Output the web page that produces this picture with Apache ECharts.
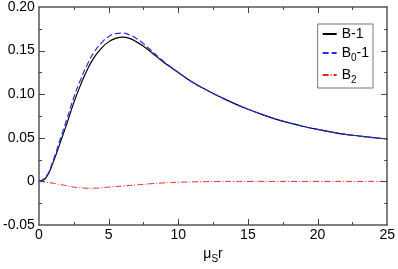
<!DOCTYPE html>
<html><head><meta charset="utf-8">
<script src="https://cdn.jsdelivr.net/npm/echarts@6/dist/echarts.min.js"></script>
<style>html,body{margin:0;padding:0;background:#fff}#c{width:398px;height:269px}</style>
</head><body><div id="c"></div>
<script>
const rB = [0,0.5,1,1.5,2,2.5,3,3.5,4,4.5,5,5.5,6,6.5,7,7.5,8,9,10,11,12,13,14,15,16,17,18,19,20,21,22,23,24,25];
const bMinus1 = [0,0.004,0.021,0.043,0.066,0.090,0.111,0.129,0.143,0.153,0.160,0.164,0.1655,0.164,0.160,0.155,0.149,0.136,0.125,0.114,0.105,0.097,0.0895,0.0828,0.0768,0.0715,0.0670,0.0630,0.0596,0.0566,0.0540,0.0520,0.0502,0.0486];
const b0Minus1 = [0,0.005,0.023,0.047,0.071,0.096,0.117,0.135,0.149,0.159,0.166,0.1695,0.170,0.168,0.164,0.158,0.151,0.137,0.125,0.114,0.105,0.097,0.0895,0.0828,0.0768,0.0715,0.0670,0.0630,0.0596,0.0566,0.0540,0.0520,0.0502,0.0486];
const rR = [0,0.5,1,1.5,2,2.5,3,3.5,4,4.5,5,6,7,8,9,10,11,12,13,14,15,20,25];
const b2 = [0,-0.0008,-0.002,-0.0035,-0.005,-0.0065,-0.0073,-0.0078,-0.0078,-0.0073,-0.0066,-0.0053,-0.004,-0.0027,-0.0017,-0.001,-0.0006,-0.0003,-0.0001,0,0,0,0];
const yTickLabels = {'-0.05':'-0.05','0':'0','0.05':'0.05','0.1':'0.10','0.15':'0.15','0.2':'0.20'};
const xMajorTicks = [5,10,15,20];
const xMinorTicks = [2.5,7.5,12.5,17.5,22.5];
const yMajorTicks = [0,0.05,0.10,0.15];
const yMinorTicks = [-0.025,0.025,0.075,0.125,0.175];

const zip = (a,b)=>a.map((v,i)=>[v,b[i]]);
const font = 'Liberation Sans, Arial, sans-serif';
const axisCol = '#555';
const tickCol = '#444';
const subStyle = {fontFamily:font,fontSize:10,color:'#000',verticalAlign:'bottom',padding:[10,0,0,0]};
const X0=0, X1=25, Y0=-0.05, Y1=0.20;
const chart = echarts.init(document.getElementById('c'));
function mkAxis(kind,pos){
  const a = {type:'value', gridIndex:0, position:pos,
    axisLine:{show:true,onZero:false,lineStyle:{color:axisCol,width:1.5}},
    axisTick:{show:false}, minorTick:{show:false},
    splitLine:{show:false}};
  if(kind==='x'){ a.min=X0; a.max=X1; a.interval=5; }
  else { a.min=Y0; a.max=Y1; a.interval=0.05; }
  return a;
}
const xb = mkAxis('x','bottom');
xb.axisLabel = {color:'#000',fontFamily:font,fontSize:14,margin:3};
xb.name = '{a|μ}{s|S}{a|r}'; xb.nameLocation='middle'; xb.nameGap=19;
xb.nameTextStyle = {rich:{a:{fontFamily:font,fontSize:14,color:'#000'},s:subStyle}};
const xt = mkAxis('x','top'); xt.axisLabel={show:false};
const yl = mkAxis('y','left');
yl.axisLabel = {color:'#000',fontFamily:font,fontSize:14,margin:4,
  formatter:function(v){ const k=String(Math.round(v*100)/100); return yTickLabels[k]!==undefined?yTickLabels[k]:k; }};
const yr = mkAxis('y','right'); yr.axisLabel={show:false};

// tick marks on all four sides: [value, side(0 bottom,1 top,2 left,3 right), length]
const tickData = [];
xMajorTicks.forEach(v=>{tickData.push([v,0,6]);tickData.push([v,1,6]);});
xMinorTicks.forEach(v=>{tickData.push([v,0,3]);tickData.push([v,1,3]);});
yMajorTicks.forEach(v=>{tickData.push([v,2,6]);tickData.push([v,3,6]);});
yMinorTicks.forEach(v=>{tickData.push([v,2,3]);tickData.push([v,3,3]);});

function renderTick(params, api){
  const v=api.value(0), side=api.value(1), len=api.value(2);
  let x1,y1,x2,y2,p;
  if(side===0){ p=api.coord([v,Y0]); x1=x2=Math.round(p[0])+0.5; y1=p[1]; y2=p[1]-len; }
  else if(side===1){ p=api.coord([v,Y1]); x1=x2=Math.round(p[0])+0.5; y1=p[1]; y2=p[1]+len; }
  else if(side===2){ p=api.coord([X0,v]); y1=y2=Math.round(p[1])+0.5; x1=p[0]; x2=p[0]+len; }
  else { p=api.coord([X1,v]); y1=y2=Math.round(p[1])+0.5; x1=p[0]; x2=p[0]-len; }
  return {type:'line',shape:{x1:x1,y1:y1,x2:x2,y2:y2},style:{stroke:tickCol,lineWidth:1}};
}

chart.setOption({
  animation:false,
  grid:{left:37,right:9,top:6,bottom:34},
  legend:{
    orient:'vertical', right:25, top:24,
    itemWidth:14, itemHeight:10, itemGap:5,
    borderColor:'#777', borderWidth:1, padding:[3,4,3,4],
    itemStyle:{opacity:0},
    textStyle:{fontFamily:font,fontSize:14,color:'#000',
      rich:{a:{fontFamily:font,fontSize:14,color:'#000'},s:subStyle}},
    formatter:function(n){
      if(n==='B0-1') return '{a|B}{s|0}{a|-1}';
      if(n==='B2') return '{a|B}{s|2}';
      return '{a|'+n+'}';
    },
    data:['B-1','B0-1','B2']
  },
  xAxis:[xb, xt],
  yAxis:[yl, yr],
  series:[
    {name:'ticks',type:'custom',xAxisIndex:0,yAxisIndex:0,clip:false,silent:true,
      renderItem:renderTick,data:tickData,z:10},
    {name:'B-1',type:'line',smooth:true,symbol:'none',data:zip(rB,bMinus1),
      lineStyle:{color:'#000',width:1.2},itemStyle:{color:'#000'}},
    {name:'B0-1',type:'line',smooth:true,symbol:'none',data:zip(rB,b0Minus1),
      lineStyle:{color:'#2030ee',width:1.2,type:[6,3]},itemStyle:{color:'#2030ee'}},
    {name:'B2',type:'line',smooth:true,symbol:'none',data:zip(rR,b2),
      lineStyle:{color:'#ee2020',width:1,type:[6,2,1,2]},itemStyle:{color:'#ee2020'}}
  ]
});
</script></body></html>
